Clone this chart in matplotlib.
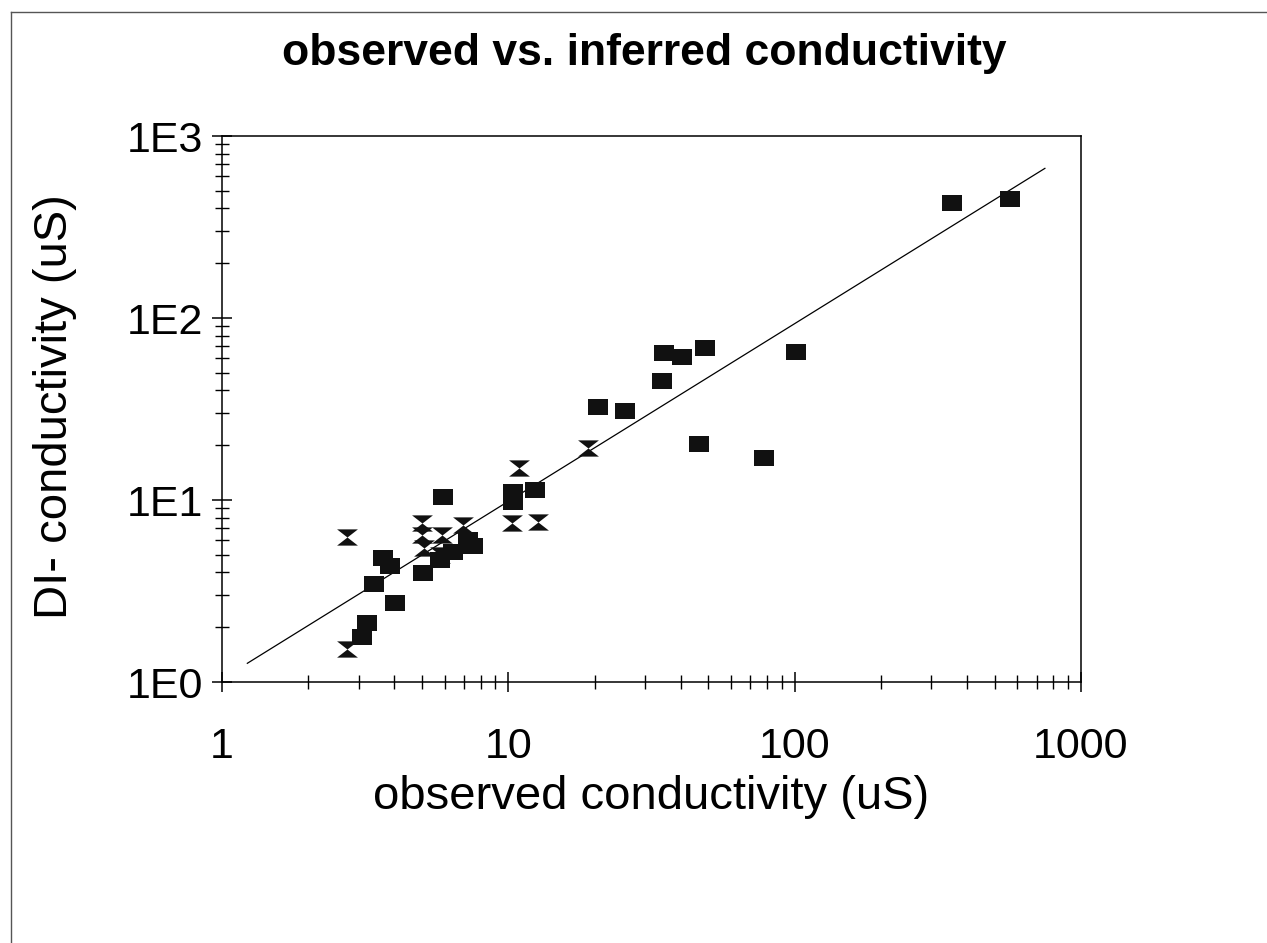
import numpy as np
import matplotlib
matplotlib.use("Agg")
import matplotlib.pyplot as plt
from matplotlib.lines import Line2D
from matplotlib.ticker import LogLocator, NullFormatter

plt.rcParams["font.family"] = ["Liberation Sans", "DejaVu Sans"]

# ------------------------------------------------------------
# Data
# ------------------------------------------------------------

# filled squares
sq_obs = [5.93, 3.66, 3.86, 3.40, 4.02, 3.22, 3.08, 5.05, 5.77, 6.43,
          7.23, 7.55, 10.4, 10.4, 12.4, 35.0, 40.5, 48.6, 34.4, 20.5,
          25.6, 46.4, 78.2, 101.0, 565.0, 355.0]
sq_inf = [10.35, 4.78, 4.34, 3.44, 2.73, 2.10, 1.77, 3.96, 4.68, 5.20,
          6.03, 5.61, 11.1, 9.79, 11.35, 64.0, 60.8, 68.4, 45.2, 32.6,
          30.8, 20.3, 17.0, 65.3, 453.0, 430.0]

# hourglass markers
hg_obs = [2.74, 2.73, 4.99, 4.99, 5.08, 5.85, 6.96, 10.9, 10.3, 12.7, 19.0, 5.77]
hg_inf = [6.24, 1.51, 7.48, 6.42, 5.45, 6.42, 7.29, 15.0, 7.45, 7.60, 19.2, 4.99]

# fitted line end points
fit_obs = [1.226, 748.0]
fit_inf = [1.267, 664.0]

x_ticks = [1, 10, 100, 1000]
x_ticklabels = ["1", "10", "100", "1000"]
y_ticks = [1, 10, 100, 1000]
y_ticklabels = ["1E0", "1E1", "1E2", "1E3"]


# ------------------------------------------------------------
# Marker shapes (wider than tall, like the scan)
# ------------------------------------------------------------

square_marker = [(-1, -0.74), (1, -0.74), (1, 0.74), (-1, 0.74), (-1, -0.74)]
hourglass_marker = [(-1, 0.78), (1, 0.78), (0, 0), (1, -0.78), (-1, -0.78), (0, 0), (-1, 0.78)]


# ------------------------------------------------------------
# Figure
# ------------------------------------------------------------

W, H = 1267, 943
fig = plt.figure(figsize=(W / 100, H / 100), dpi=100)

ax_left, ax_right, ax_top, ax_bottom = 222, 1081, 136, 682
ax = fig.add_axes([ax_left / W, 1 - ax_bottom / H,
                   (ax_right - ax_left) / W, (ax_bottom - ax_top) / H])

ax.set_xscale("log")
ax.set_yscale("log")
ax.set_xlim(1, 1000)
ax.set_ylim(1, 1000)

ax.plot(fit_obs, fit_inf, color="black", linewidth=0.9, zorder=2)

ax.plot(sq_obs, sq_inf, linestyle="none", marker=square_marker,
        markersize=15, color="#111111", markeredgewidth=0, zorder=3)
ax.plot(hg_obs, hg_inf, linestyle="none", marker=hourglass_marker,
        markersize=15, color="#111111", markeredgewidth=0, zorder=4)

ax.set_xticks(x_ticks)
ax.set_xticklabels(x_ticklabels)
ax.set_yticks(y_ticks)
ax.set_yticklabels(y_ticklabels)
ax.xaxis.set_minor_locator(LogLocator(base=10, subs=np.arange(2, 10)))
ax.yaxis.set_minor_locator(LogLocator(base=10, subs=np.arange(2, 10)))
ax.xaxis.set_minor_formatter(NullFormatter())
ax.yaxis.set_minor_formatter(NullFormatter())

ax.tick_params(which="major", direction="inout", length=15, width=1.1,
               labelsize=31, color="black")
ax.tick_params(which="minor", direction="inout", length=10, width=1.0,
               color="black")
ax.tick_params(axis="x", which="major", pad=25)
ax.tick_params(axis="y", which="major", pad=6)

for side in ["left", "right", "top", "bottom"]:
    ax.spines[side].set_linewidth(1.1)
    ax.spines[side].set_color("black")

fig.text(644 / W, 1 - 54 / H, "observed vs. inferred conductivity",
         fontsize=32, fontweight="bold", ha="center", va="center")
fig.text(651 / W, 1 - 797 / H, "observed conductivity (uS)",
         fontsize=34, ha="center", va="center")
fig.text(55 / W, 1 - 407 / H, "DI- conductivity (uS)",
         fontsize=34, ha="center", va="center", rotation=90)

# outer frame of the scanned page (only top and left edges visible)
fig.add_artist(Line2D([11 / W, 11 / W], [0, 1 - 12 / H],
                      transform=fig.transFigure, color="#555555", linewidth=1.0))
fig.add_artist(Line2D([11 / W, 1], [1 - 12 / H, 1 - 12 / H],
                      transform=fig.transFigure, color="#555555", linewidth=1.0))

fig.savefig("out.png", dpi=100)
